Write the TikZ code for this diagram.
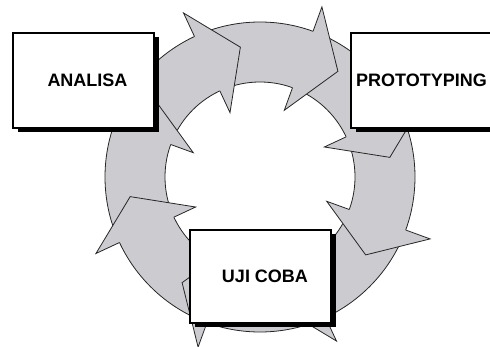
\documentclass[tikz,border=0pt]{standalone}
\usepackage{fontspec}
\setmainfont{Liberation Sans}
\usetikzlibrary{shadows}
\definecolor{ringgray}{RGB}{204,204,208}
\begin{document}
\begin{tikzpicture}[x=1pt,y=1pt,
  ringfill/.style={fill=ringgray, even odd rule},
  ringline/.style={draw=black!85, line width=0.8pt},
  arrowhead/.style={fill=ringgray, draw=black!85, line width=0.8pt, line join=miter},
  box/.style={draw=black, line width=1.2pt, fill=white, inner sep=0pt,
    minimum width=141pt, minimum height=95pt,
    font=\fontsize{18}{20}\selectfont\bfseries,
    drop shadow={shadow xshift=4.5pt, shadow yshift=-4.5pt, fill=black, opacity=1}}
]
\useasboundingbox (0,0) rectangle (490,-347);
\coordinate (C) at (260,-177);
\begin{scope}[shift={(C)}]
  % ring band
  \path[ringfill] (0,0) circle (155) (0,0) circle (95);
  \path[ringline] (0,0) circle (155);
  \path[ringline] (0,0) circle (95);
  % arrow heads
  \foreach \t in {115,70,25,-20,-65,-110,-155,160} {
    \path[arrowhead] (\t:155) -- (\t:181) -- (\t-16.4:131.3) -- (\t:71) -- (\t:95);
  }
\end{scope}
% boxes
\node[box] (analisa) at (83.5,-80.5) {\hspace*{8pt}ANALISA};
\node[box] (proto) at (421.5,-80.5) {PROTOTYPING};
\node[box, minimum height=93pt] (uji) at (260.5,-276.5) {\hspace*{9pt}UJI COBA};
\end{tikzpicture}
\end{document}
